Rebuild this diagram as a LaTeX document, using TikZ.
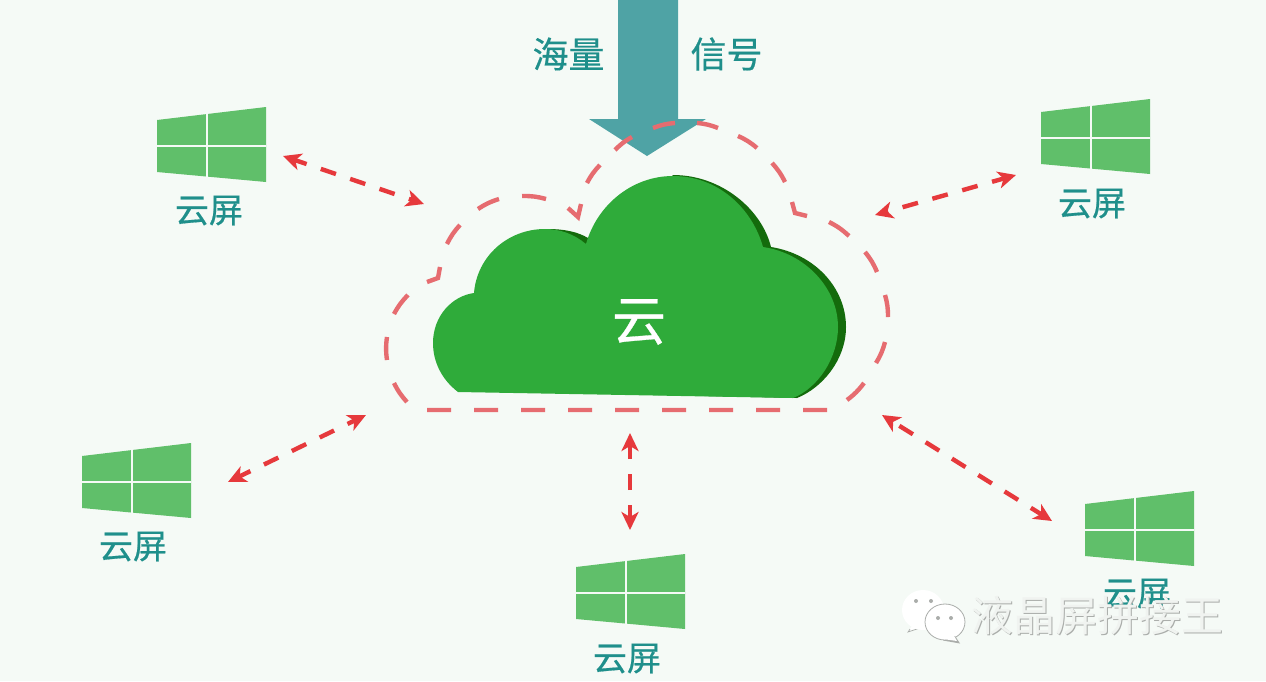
\documentclass[tikz,border=0pt]{standalone}
\usepackage{fontspec}
\newfontfamily\cjk[FakeBold=0.5]{Noto Sans CJK SC}
\newfontfamily\cjkw{Noto Sans CJK SC}
\usetikzlibrary{arrows.meta}
\definecolor{bgc}{RGB}{245,250,246}
\definecolor{cloudc}{RGB}{47,171,58}
\definecolor{cloudd}{RGB}{20,107,12}
\definecolor{tealc}{RGB}{79,163,165}
\definecolor{labelc}{RGB}{31,143,139}
\definecolor{redc}{RGB}{230,57,60}
\definecolor{pinkc}{RGB}{230,108,112}
\definecolor{winc}{RGB}{96,191,106}
\definecolor{wmg}{RGB}{170,173,170}
\definecolor{wml}{RGB}{240,243,240}
\tikzset{
  lab/.style={font=\cjk\fontsize{34}{34}\selectfont,text=labelc,inner sep=0pt},
  biglab/.style={font=\cjk\fontsize{36}{36}\selectfont,text=labelc,inner sep=0pt},
  link/.style={draw=redc,line width=4.4pt,dash pattern=on 16pt off 15pt,dash phase=3pt,
    {Stealth[length=18pt,width=17pt,inset=5pt]}-{Stealth[length=18pt,width=17pt,inset=5pt]}},
  outline/.style={draw=pinkc,line width=4.4pt},
  oc/.style={bend right=8},
  winlogo/.pic={
    \fill[winc] (0,0) -- (109,-13) -- (109,62) -- (0,52) -- cycle;
    \draw[bgc,line width=2.4pt] (50,-8) -- (50,60);
    \draw[bgc,line width=2.4pt] (-5,26) -- (109,26);
  },
  wm/.style={font=\cjkw\fontsize{42}{42}\selectfont,inner sep=0pt,anchor=west},
}
\begin{document}
\begin{tikzpicture}[x=1pt,y=-1pt]
\useasboundingbox (0,0) rectangle (1266,681);
\fill[bgc] (0,0) rectangle (1266,681);

% signal arrow
\fill[tealc] (618,0) -- (678,0) -- (678,119) -- (706,119) -- (647,156) -- (589,119) -- (618,119) -- cycle;
\node[biglab] (hl) at (568.5,54) {海量};
\node[biglab] (xh) at (726.5,54) {信号};

% cloud
\fill[cloudd] (520,300) -- (547,229)
  .. controls (565,229) and (578,232) .. (588,238)
  -- (588,246) -- (640,210) -- (673,175)
  .. controls (722,175) and (762,210) .. (771,247)
  .. controls (815,254) and (846,288) .. (846,327)
  .. controls (846,360) and (822,388) .. (797,398)
  -- (520,392) -- cycle;
\fill[cloudc] (458,392)
  .. controls (441,379) and (433,361) .. (433,343)
  .. controls (433,316) and (452,296) .. (474,293)
  .. controls (477,256) and (508,229) .. (545,229)
  .. controls (560,229) and (574,234) .. (586,244)
  .. controls (597,205) and (632,176) .. (673,176)
  .. controls (718,176) and (752,208) .. (763,247)
  .. controls (805,253) and (838,288) .. (838,327)
  .. controls (838,358) and (818,388) .. (793,398)
  -- cycle;
\node[inner sep=0pt,font=\cjk\fontsize{54}{54}\selectfont,text=white] (yun) at (639,322) {云};

% dashed outline round the cloud
\path[outline]
  (427,410) -- (451,410) (474,410) -- (498,410) (521,410) -- (545,410)
  (568,410) -- (592,410) (615,410) -- (639,410) (662,410) -- (686,410)
  (709,410) -- (733,410) (756,410) -- (780,410) (803,410) -- (827,410)
  (847,400) to[oc] (864,383)
  (876,363) to[oc] (885,342)
  (888,317) to[oc] (885,295)
  (877,272) to[oc] (865,252)
  (849,236) to[oc] (829,222)
  (807,216) -- (795,213) -- (792,202)
  (785,182) to[oc] (772,163)
  (757,148) to[oc] (738,136)
  (718,128) to[oc] (697,123)
  (675,123) to[oc] (653,128)
  (632,137) to[oc] (615,150)
  (600,165) to[oc] (587,183)
  (581,204) -- (578,217) -- (568,208)
  (546,199) to[oc] (522,196)
  (499,199) to[oc] (478,209)
  (460,225) to[oc] (447,244)
  (440,267) -- (438,278) -- (427,282)
  (408,295) to[oc] (394,314)
  (387,337) to[oc] (387,360)
  (394,383) to[oc] (407,402);

% screens
\pic at (157,120) {winlogo};
\pic at (1041,112) {winlogo};
\pic at (82,456) {winlogo};
\pic at (576,567) {winlogo};
\pic at (1085,504) {winlogo};
\node[lab] (s1) at (209,210.5) {云屏};
\node[lab] (s2) at (1092,203.5) {云屏};
\node[lab] (s3) at (133,546.5) {云屏};
\node[lab] (s4) at (627,658.5) {云屏};
\node[lab] (s5) at (1137,593.5) {云屏};

% links
\coordinate (a1) at (283,156); \coordinate (b1) at (424,204);
\coordinate (a2) at (1016,175); \coordinate (b2) at (875,215);
\coordinate (a3) at (228,482); \coordinate (b3) at (366,415);
\coordinate (a4) at (630,530); \coordinate (b4) at (630,433);
\coordinate (a5) at (1052,521); \coordinate (b5) at (882,415);
\draw[link] (a1) -- (b1);
\draw[link] (a2) -- (b2);
\draw[link] (a3) -- (b3);
\draw[link] (a4) -- (b4);
\draw[link] (a5) -- (b5);

% watermark
\fill[white] (913,625) -- (908,631) -- (925,626) -- cycle;
\draw[wmg,line width=0.7pt] (910,629) -- (908,632) -- (920,628);
\fill[white] (923,610) ellipse (21 and 20);
\draw[wmg,line width=0.8pt,fill=white] (945,622) ellipse (20 and 18);
\fill[wmg] (955,636) -- (960,643.5) -- (943,640.5) -- cycle;
\fill[white] (953,634) -- (957,641) -- (943,639) -- cycle;
\fill[wmg] (916,601) circle (2) (931,601) circle (2) (938,618) circle (2) (951,618) circle (2);
\node[wm,text=wmg] (wm1) at (971.8,616.8) {液晶屏拼接王};
\node[wm,text=wml] (wm2) at (971,616) {液晶屏拼接王};
\end{tikzpicture}
\end{document}
